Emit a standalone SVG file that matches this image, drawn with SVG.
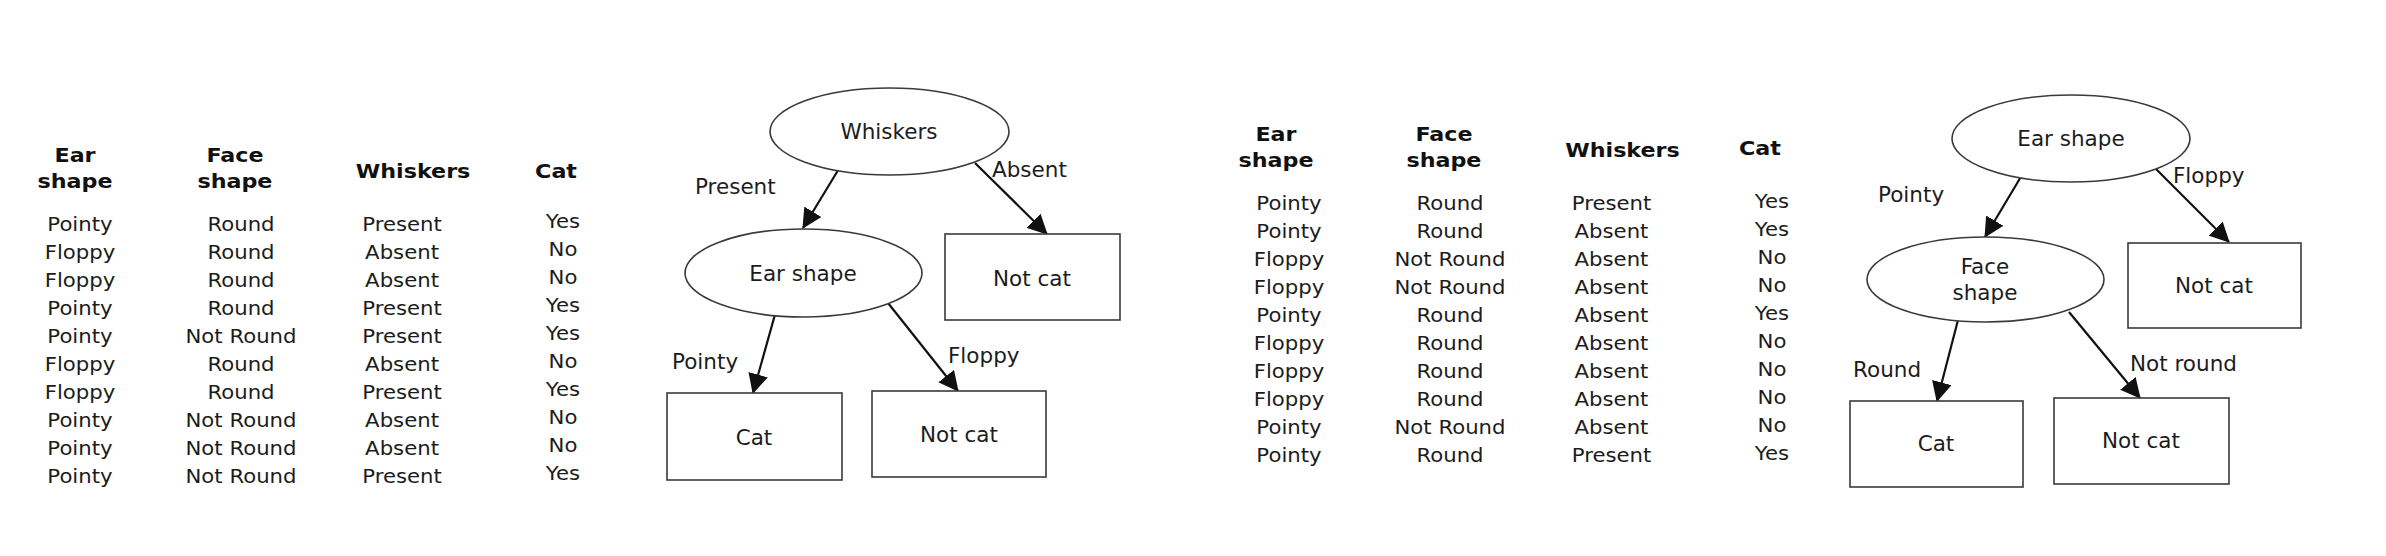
<svg xmlns="http://www.w3.org/2000/svg" width="2386" height="556" viewBox="0 0 2386 556">
<style>
.t{font-family:"DejaVu Sans",Verdana,sans-serif;font-size:19.3px;fill:#1c1c1c;text-anchor:middle}
.h{font-weight:bold;font-size:20.2px;fill:#111}
.n{font-family:"DejaVu Sans",Verdana,sans-serif;font-size:21.5px;fill:#1c1c1c}
.c{text-anchor:middle}
.shape{fill:#fff;stroke:#3a3a3a;stroke-width:1.6}
.e{stroke:#111;stroke-width:2.2;fill:none;marker-end:url(#ah)}
</style>
<defs>
<marker id="ah" markerUnits="userSpaceOnUse" markerWidth="20" markerHeight="20" viewBox="0 0 20 20" refX="19" refY="10" orient="auto">
<path d="M0,0 L20,10 L0,20 z" fill="#111"/>
</marker>
</defs>
<rect width="2386" height="556" fill="#fff"/>

<g id="table1" transform="scale(1.1,1)">
<text class="t h" x="68.2" y="162">Ear</text><text class="t h" x="68.2" y="188">shape</text>
<text class="t h" x="213.6" y="162">Face</text><text class="t h" x="213.6" y="188">shape</text>
<text class="t h" x="375.5" y="178">Whiskers</text>
<text class="t h" x="505.5" y="178">Cat</text>
<text class="t" x="72.7" y="231">Pointy</text><text class="t" x="219.1" y="231">Round</text><text class="t" x="365.5" y="231">Present</text><text class="t" x="511.8" y="228">Yes</text>
<text class="t" x="72.7" y="259">Floppy</text><text class="t" x="219.1" y="259">Round</text><text class="t" x="365.5" y="259">Absent</text><text class="t" x="511.8" y="256">No</text>
<text class="t" x="72.7" y="287">Floppy</text><text class="t" x="219.1" y="287">Round</text><text class="t" x="365.5" y="287">Absent</text><text class="t" x="511.8" y="284">No</text>
<text class="t" x="72.7" y="315">Pointy</text><text class="t" x="219.1" y="315">Round</text><text class="t" x="365.5" y="315">Present</text><text class="t" x="511.8" y="312">Yes</text>
<text class="t" x="72.7" y="343">Pointy</text><text class="t" x="219.1" y="343">Not Round</text><text class="t" x="365.5" y="343">Present</text><text class="t" x="511.8" y="340">Yes</text>
<text class="t" x="72.7" y="371">Floppy</text><text class="t" x="219.1" y="371">Round</text><text class="t" x="365.5" y="371">Absent</text><text class="t" x="511.8" y="368">No</text>
<text class="t" x="72.7" y="399">Floppy</text><text class="t" x="219.1" y="399">Round</text><text class="t" x="365.5" y="399">Present</text><text class="t" x="511.8" y="396">Yes</text>
<text class="t" x="72.7" y="427">Pointy</text><text class="t" x="219.1" y="427">Not Round</text><text class="t" x="365.5" y="427">Absent</text><text class="t" x="511.8" y="424">No</text>
<text class="t" x="72.7" y="455">Pointy</text><text class="t" x="219.1" y="455">Not Round</text><text class="t" x="365.5" y="455">Absent</text><text class="t" x="511.8" y="452">No</text>
<text class="t" x="72.7" y="483">Pointy</text><text class="t" x="219.1" y="483">Not Round</text><text class="t" x="365.5" y="483">Present</text><text class="t" x="511.8" y="480">Yes</text>
</g>

<g id="table2" transform="scale(1.1,1)">
<text class="t h" x="1160" y="141">Ear</text><text class="t h" x="1160" y="167">shape</text>
<text class="t h" x="1312.7" y="141">Face</text><text class="t h" x="1312.7" y="167">shape</text>
<text class="t h" x="1475" y="157">Whiskers</text>
<text class="t h" x="1600" y="155">Cat</text>
<text class="t" x="1171.8" y="210">Pointy</text><text class="t" x="1318.2" y="210">Round</text><text class="t" x="1465" y="210">Present</text><text class="t" x="1610.9" y="208">Yes</text>
<text class="t" x="1171.8" y="238">Pointy</text><text class="t" x="1318.2" y="238">Round</text><text class="t" x="1465" y="238">Absent</text><text class="t" x="1610.9" y="236">Yes</text>
<text class="t" x="1171.8" y="266">Floppy</text><text class="t" x="1318.2" y="266">Not Round</text><text class="t" x="1465" y="266">Absent</text><text class="t" x="1610.9" y="264">No</text>
<text class="t" x="1171.8" y="294">Floppy</text><text class="t" x="1318.2" y="294">Not Round</text><text class="t" x="1465" y="294">Absent</text><text class="t" x="1610.9" y="292">No</text>
<text class="t" x="1171.8" y="322">Pointy</text><text class="t" x="1318.2" y="322">Round</text><text class="t" x="1465" y="322">Absent</text><text class="t" x="1610.9" y="320">Yes</text>
<text class="t" x="1171.8" y="350">Floppy</text><text class="t" x="1318.2" y="350">Round</text><text class="t" x="1465" y="350">Absent</text><text class="t" x="1610.9" y="348">No</text>
<text class="t" x="1171.8" y="378">Floppy</text><text class="t" x="1318.2" y="378">Round</text><text class="t" x="1465" y="378">Absent</text><text class="t" x="1610.9" y="376">No</text>
<text class="t" x="1171.8" y="406">Floppy</text><text class="t" x="1318.2" y="406">Round</text><text class="t" x="1465" y="406">Absent</text><text class="t" x="1610.9" y="404">No</text>
<text class="t" x="1171.8" y="434">Pointy</text><text class="t" x="1318.2" y="434">Not Round</text><text class="t" x="1465" y="434">Absent</text><text class="t" x="1610.9" y="432">No</text>
<text class="t" x="1171.8" y="462">Pointy</text><text class="t" x="1318.2" y="462">Round</text><text class="t" x="1465" y="462">Present</text><text class="t" x="1610.9" y="460">Yes</text>
</g>

<g id="connectors">
<line class="e" x1="840" y1="167" x2="803" y2="228"/>
<line class="e" x1="975" y1="163" x2="1047" y2="234"/>
<line class="e" x1="776" y1="311" x2="753" y2="393"/>
<line class="e" x1="888" y1="303" x2="958" y2="391"/>
<line class="e" x1="2022" y1="175" x2="1985" y2="237"/>
<line class="e" x1="2156" y1="169" x2="2229" y2="242"/>
<line class="e" x1="1958" y1="320" x2="1937" y2="401"/>
<line class="e" x1="2069" y1="312" x2="2140" y2="398"/>
<g class="n">
<text x="695" y="194">Present</text>
<text x="992" y="177">Absent</text>
<text x="672" y="369">Pointy</text>
<text x="948" y="363">Floppy</text>
<text x="1878" y="202">Pointy</text>
<text x="2173" y="183">Floppy</text>
<text x="1853" y="377">Round</text>
<text x="2130" y="371">Not round</text>
</g>
</g>

<g id="t1-whiskers"><ellipse class="shape" cx="889.5" cy="131.5" rx="119.5" ry="43.5"/><text class="n c" x="889" y="139">Whiskers</text></g>
<g id="t1-earshape"><ellipse class="shape" cx="803.5" cy="273" rx="118.5" ry="44"/><text class="n c" x="803" y="281">Ear shape</text></g>
<g id="t1-notcat1"><rect class="shape" x="945" y="234" width="175" height="86"/><text class="n c" x="1032" y="286">Not cat</text></g>
<g id="t1-cat"><rect class="shape" x="667" y="393" width="175" height="87"/><text class="n c" x="754" y="445">Cat</text></g>
<g id="t1-notcat2"><rect class="shape" x="872" y="391" width="174" height="86"/><text class="n c" x="959" y="442">Not cat</text></g>

<g id="t2-earshape"><ellipse class="shape" cx="2071" cy="138.5" rx="119" ry="43.5"/><text class="n c" x="2071" y="146">Ear shape</text></g>
<g id="t2-faceshape"><ellipse class="shape" cx="1985.5" cy="279.5" rx="118.5" ry="42.5"/><text class="n c" x="1985" y="274">Face</text><text class="n c" x="1985" y="300">shape</text></g>
<g id="t2-notcat1"><rect class="shape" x="2128" y="243" width="173" height="85"/><text class="n c" x="2214" y="293">Not cat</text></g>
<g id="t2-cat"><rect class="shape" x="1850" y="401" width="173" height="86"/><text class="n c" x="1936" y="451">Cat</text></g>
<g id="t2-notcat2"><rect class="shape" x="2054" y="398" width="175" height="86"/><text class="n c" x="2141" y="448">Not cat</text></g>
</svg>
